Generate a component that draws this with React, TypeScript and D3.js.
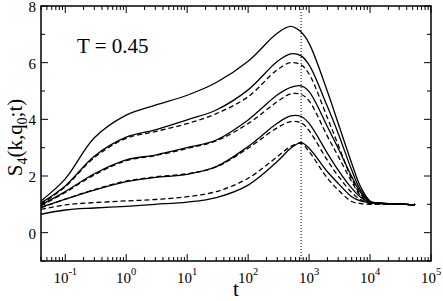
import React from "react";
import * as d3 from "d3";

const W = 443;
const H = 301;

// time grid shared by all curves
const tGrid = [0.04, 0.1, 0.3, 1, 3, 10, 30, 100, 300, 500, 740, 1000, 2000, 3000, 5000, 7000, 10000, 15000, 20000, 30000, 40000, 50000, 55000];

// solid curves (top to bottom)
const solid1 = [1.12, 1.9, 3.35, 4.15, 4.5, 4.85, 5.3, 6.05, 7.04, 7.28, 7.08, 6.68, 4.98, 3.86, 2.45, 1.62, 1.12, 1.04, 1.02, 1.01, 1.0, 0.98, 1.0];
const solid2 = [1.05, 1.65, 2.7, 3.37, 3.63, 3.98, 4.33, 5.04, 6.04, 6.31, 6.24, 5.92, 4.45, 3.51, 2.21, 1.5, 1.1, 1.04, 1.02, 1.01, 1.0, 0.98, 1.0];
const solid3 = [0.98, 1.45, 2.08, 2.57, 2.74, 3.0, 3.27, 3.98, 4.86, 5.13, 5.18, 4.98, 3.74, 2.98, 1.98, 1.42, 1.08, 1.04, 1.02, 1.01, 1.0, 0.98, 1.0];
const solid4 = [0.9, 1.18, 1.5, 1.8, 1.95, 2.06, 2.33, 3.04, 3.86, 4.12, 4.1, 3.86, 2.8, 2.21, 1.57, 1.25, 1.06, 1.03, 1.02, 1.01, 1.0, 0.98, 1.0];
const solid5 = [0.65, 0.8, 0.87, 0.93, 1.0, 1.08, 1.24, 1.68, 2.51, 2.98, 3.18, 2.98, 2.15, 1.74, 1.27, 1.12, 1.05, 1.03, 1.02, 1.01, 1.0, 0.98, 1.0];

// dashed curves (top to bottom)
const dashed2 = [1.0, 1.62, 2.65, 3.33, 3.57, 3.85, 4.2, 4.8, 5.75, 6.0, 5.92, 5.6, 4.05, 3.1, 1.9, 1.35, 1.06, 1.03, 1.02, 1.01, 1.0, 0.98, 1.0];
const dashed3 = [0.95, 1.42, 2.04, 2.54, 2.72, 2.97, 3.24, 3.85, 4.62, 4.9, 4.88, 4.65, 3.4, 2.7, 1.8, 1.3, 1.05, 1.03, 1.02, 1.01, 1.0, 0.98, 1.0];
const dashed4 = [0.88, 1.18, 1.52, 1.82, 1.97, 2.08, 2.32, 2.98, 3.7, 3.92, 3.88, 3.6, 2.55, 2.0, 1.42, 1.17, 1.03, 1.02, 1.02, 1.01, 1.0, 0.98, 1.0];
const dashed5 = [0.82, 0.98, 1.06, 1.12, 1.17, 1.27, 1.45, 1.92, 2.68, 3.04, 3.15, 2.86, 1.92, 1.51, 1.1, 1.03, 1.0, 1.01, 1.01, 1.0, 1.0, 0.98, 1.0];

const solidSeries = [solid1, solid2, solid3, solid4, solid5];
const dashedSeries = [dashed2, dashed3, dashed4, dashed5];

const xDomain = [0.04, 1e5];
const yDomain = [-1, 8];
const xMajorExp = [-1, 0, 1, 2, 3, 4, 5];
const yMajor = [0, 2, 4, 6, 8];
const yMinor = [-1, 1, 3, 5, 7];
const tMarker = 740;
const annotation = "T = 0.45";

const FONT = "Liberation Serif, DejaVu Serif, Times New Roman, serif";

export default function App() {
  const left = 41, right = 431, top = 6, bottom = 261;
  const x = d3.scaleLog().domain(xDomain).range([left, right]);
  const y = d3.scaleLinear().domain(yDomain).range([bottom, top]);

  const line = d3
    .line<number>()
    .x((_, i) => x(tGrid[i]))
    .y((v) => y(v))
    .curve(d3.curveCatmullRom.alpha(0.5));

  const xMinor: number[] = [];
  for (let e = -2; e <= 4; e++) {
    for (let m = 2; m <= 9; m++) {
      const v = m * Math.pow(10, e);
      if (v >= xDomain[0] && v <= xDomain[1]) xMinor.push(v);
    }
  }

  const majLen = 7;
  const minLen = 4;
  const textStyle = { fontFamily: FONT };

  return (
    <svg width={W} height={H} style={{ position: "absolute", left: 0, top: 0, background: "#fff", fontFamily: FONT }}>
      <rect x={0} y={0} width={W} height={H} fill="#fff" />
      <g fill="none" stroke="#000" strokeWidth={1.3}>
        {solidSeries.map((s, i) => (
          <path key={"s" + i} d={line(s) || ""} />
        ))}
        {dashedSeries.map((s, i) => (
          <path key={"d" + i} d={line(s) || ""} strokeDasharray="5,3" />
        ))}
      </g>
      <line x1={x(tMarker)} x2={x(tMarker)} y1={top} y2={bottom} stroke="#000" strokeWidth={1} strokeDasharray="1,2" />
      <g stroke="#000" strokeWidth={1}>
        {xMajorExp.map((e) => {
          const px = x(Math.pow(10, e));
          return (
            <g key={"xm" + e}>
              <line x1={px} x2={px} y1={bottom} y2={bottom - majLen} />
              <line x1={px} x2={px} y1={top} y2={top + majLen} />
            </g>
          );
        })}
        {xMinor.map((v, i) => {
          const px = x(v);
          return (
            <g key={"xn" + i}>
              <line x1={px} x2={px} y1={bottom} y2={bottom - minLen} />
              <line x1={px} x2={px} y1={top} y2={top + minLen} />
            </g>
          );
        })}
        {yMajor.map((v) => (
          <g key={"ym" + v}>
            <line x1={left} x2={left + majLen} y1={y(v)} y2={y(v)} />
            <line x1={right} x2={right - majLen} y1={y(v)} y2={y(v)} />
          </g>
        ))}
        {yMinor.map((v) => (
          <g key={"yn" + v}>
            <line x1={left} x2={left + minLen} y1={y(v)} y2={y(v)} />
            <line x1={right} x2={right - minLen} y1={y(v)} y2={y(v)} />
          </g>
        ))}
      </g>
      <rect x={left} y={top} width={right - left} height={bottom - top} fill="none" stroke="#000" strokeWidth={1.5} />
      <g fontSize={15} textAnchor="end" fill="#000" style={textStyle}>
        {yMajor.map((v) => (
          <text key={"yl" + v} x={36} y={y(v) + 6}>
            {v}
          </text>
        ))}
      </g>
      <g fontSize={15} textAnchor="middle" fill="#000" style={textStyle}>
        {xMajorExp.map((e) => (
          <text key={"xl" + e} x={x(Math.pow(10, e))} y={283}>
            10
            <tspan fontSize={10.5} dy={-8}>
              {e < 0 ? "-" + Math.abs(e) : String(e)}
            </tspan>
          </text>
        ))}
      </g>
      <text x={(left + right) / 2} y={296} fontSize={21} textAnchor="middle" fill="#000" style={textStyle}>
        t
      </text>
      <text transform={`translate(22, ${(top + bottom) / 2 + 4}) rotate(-90)`} fontSize={21} textAnchor="middle" fill="#000" style={textStyle}>
        S
        <tspan fontSize={14} dy={5}>4</tspan>
        <tspan dy={-5}>(k,q</tspan>
        <tspan fontSize={14} dy={5}>0</tspan>
        <tspan dy={-5}>;t)</tspan>
      </text>
      <text x={77} y={53} fontSize={21} fill="#000" style={textStyle}>
        {annotation}
      </text>
    </svg>
  );
}
